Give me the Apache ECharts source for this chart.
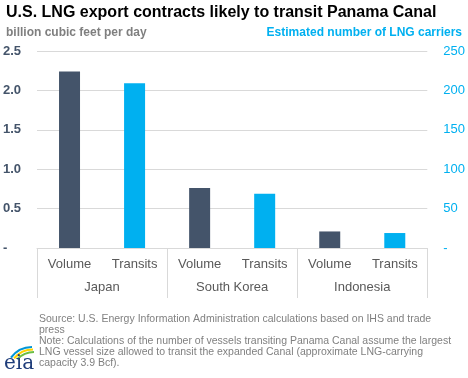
<!DOCTYPE html>
<html><head><meta charset="utf-8">
<script src="https://cdn.jsdelivr.net/npm/echarts@6/dist/echarts.min.js"></script>
<style>html,body{margin:0;padding:0;background:#fff}#c{width:468px;height:378px}</style>
</head><body><div id="c"></div>
<script>
const categories = ['Volume','Transits','Volume','Transits','Volume','Transits'];
const groups = ['Japan','South Korea','Indonesia'];
const volume = [2.24, null, 0.76, null, 0.21, null];   // billion cubic feet per day
const transits = [null, 209, null, 69, null, 19];      // estimated number of LNG carriers
const leftTicks = [0, 0.5, 1.0, 1.5, 2.0, 2.5];
const rightTicks = [0, 50, 100, 150, 200, 250];

const FONT = 'Liberation Sans, Arial, sans-serif';
const chart = echarts.init(document.getElementById('c'));
chart.setOption({
  animation: false,
  textStyle: {fontFamily: FONT},
  grid: {left: 36, right: 40, top: 51, bottom: 130},
  title: [
    {text: 'U.S. LNG export contracts likely to transit Panama Canal', left: 1, top: 0,
     textStyle: {fontSize: 16, fontWeight: 'bold', color: '#000', fontFamily: FONT}},
    {text: 'billion cubic feet per day', left: 1, top: 22,
     textStyle: {fontSize: 12, fontWeight: 'bold', color: '#7F7F7F', fontFamily: FONT}},
    {text: 'Estimated number of LNG carriers', right: 1, top: 22,
     textStyle: {fontSize: 12, fontWeight: 'bold', color: '#00B0F0', fontFamily: FONT}}
  ],
  xAxis: [
    {type: 'category', data: categories, position: 'bottom',
     axisLine: {show: true, lineStyle: {color: '#D9D9D9'}},
     axisTick: {show: false},
     axisLabel: {color: '#595959', fontSize: 13, margin: 10, interval: 0}},
    {type: 'category', data: groups, position: 'bottom',
     axisLine: {show: false},
     axisTick: {show: true, length: 50, lineStyle: {color: '#D9D9D9'}},
     axisLabel: {color: '#595959', fontSize: 13, margin: 33}}
  ],
  yAxis: [
    {type: 'value', min: 0, max: 2.5, interval: 0.5,
     axisLine: {show: false}, axisTick: {show: false},
     splitLine: {lineStyle: {color: '#D9D9D9'}},
     axisLabel: {color: '#44546A', fontSize: 13, fontWeight: 'bold', margin: 34, align: 'left',
       formatter: v => v === 0 ? '-' : v.toFixed(1)}},
    {type: 'value', min: 0, max: 250, interval: 50,
     axisLine: {show: false}, axisTick: {show: false}, splitLine: {show: false},
     axisLabel: {color: '#00B0F0', fontSize: 13, margin: 16, align: 'left',
       formatter: v => v === 0 ? '-' : String(v)}}
  ],
  series: [
    {name: 'Volume', type: 'bar', data: volume, yAxisIndex: 0, barWidth: 21, barGap: '-100%',
     itemStyle: {color: '#44546A'}},
    {name: 'Transits', type: 'bar', data: transits, yAxisIndex: 1, barWidth: 21, barGap: '-100%',
     itemStyle: {color: '#00B0F0'}}
  ],
  graphic: [
    {type: 'text', left: 39, top: 314, style: {
      text: 'Source: U.S. Energy Information Administration calculations based on IHS and trade\npress\nNote: Calculations of the number of vessels transiting Panama Canal assume the largest\nLNG vessel size allowed to transit the expanded Canal (approximate LNG-carrying\ncapacity 3.9 Bcf).',
      font: '10.5px ' + FONT, fill: '#808080', lineHeight: 11}},
    {type: 'arc', shape: {cx: 32, cy: 373, r: 26, startAngle: Math.PI*1.2, endAngle: Math.PI*1.5},
     style: {stroke: '#0096D6', lineWidth: 2.2, fill: null}},
    {type: 'arc', shape: {cx: 33, cy: 374, r: 24.5, startAngle: Math.PI*1.22, endAngle: Math.PI*1.5},
     style: {stroke: '#FFD200', lineWidth: 2.2, fill: null}},
    {type: 'arc', shape: {cx: 34, cy: 375, r: 23, startAngle: Math.PI*1.24, endAngle: Math.PI*1.5},
     style: {stroke: '#6CBE45', lineWidth: 2.2, fill: null}},
    {type: 'text', left: 4, top: 354, style: {text: 'eia', font: '20px "DejaVu Serif", serif', fill: '#1F3D7A'}}
  ]
});
</script></body></html>
